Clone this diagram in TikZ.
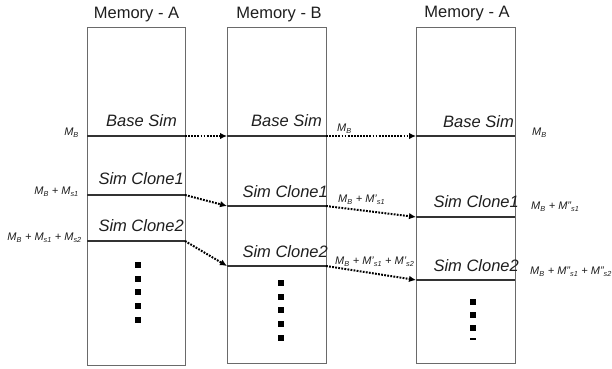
\documentclass[tikz,border=0pt]{standalone}
\usepackage{fontspec}
\setmainfont{Liberation Sans}
\usetikzlibrary{arrows.meta}
\definecolor{boxgray}{HTML}{6A6A6A}
\definecolor{divcol}{HTML}{333333}
\definecolor{txtcol}{HTML}{1E1E1E}
\tikzset{
  membox/.style={draw=boxgray, line width=0.9pt, minimum width=#1, anchor=north west, inner sep=0pt},
  divider/.style={draw=divcol, line width=1.2pt},
  title/.style={font=\fontsize{16.5}{18}\selectfont, text=txtcol, inner sep=0pt},
  simlabel/.style={font=\fontsize{16.5}{18}\selectfont\itshape, text=txtcol, inner sep=0pt, anchor=east},
  memlabel/.style={font=\fontsize{11}{12}\selectfont\itshape, text=txtcol, inner sep=0pt},
  copyarrow/.style={draw=black, line width=2pt, dash pattern=on 1.8pt off 1.3pt, -{Latex[length=7pt,width=6.5pt]}},
  dotsq/.style={fill=black, draw=none, minimum size=6pt, inner sep=0pt}
}
\newcommand{\sbx}[1]{\textsubscript{\fontsize{7.3}{8}\selectfont #1}}
\begin{document}
\begin{tikzpicture}[x=1pt,y=-1pt]
\useasboundingbox (0,0) rectangle (612,368);
% boxes
\node[membox=98pt, minimum height=338pt] (memA) at (87,27) {};
\node[membox=99pt, minimum height=336pt] (memB) at (227,27) {};
\node[membox=99pt, minimum height=336pt] (memC) at (416,27) {};
% titles
\node[title] (tA) at (136.5,15) {Memory - A};
\node[title] (tB) at (279,15) {Memory - B};
\node[title] (tC) at (467,14) {Memory - A};
% divider coordinates
\coordinate (a1L) at (87,136);  \coordinate (a1R) at (185,136);
\coordinate (a2L) at (87,195);  \coordinate (a2R) at (185,195);
\coordinate (a3L) at (87,241);  \coordinate (a3R) at (185,241);
\coordinate (b1L) at (227,136); \coordinate (b1R) at (326,136);
\coordinate (b2L) at (227,206); \coordinate (b2R) at (326,206);
\coordinate (b3L) at (227,266); \coordinate (b3R) at (326,266);
\coordinate (c1L) at (416,136); \coordinate (c1R) at (515,136);
\coordinate (c2L) at (416,217); \coordinate (c2R) at (515,217);
\coordinate (c3L) at (416,280); \coordinate (c3R) at (515,280);
\foreach \p in {a1,a2,a3,b1,b2,b3,c1,c2,c3}{
  \draw[divider] (\p L) -- (\p R);
}
% sim labels
\node[simlabel] (sa1) at (177,121) {Base Sim};
\node[simlabel] (sa2) at (184,179) {Sim Clone1};
\node[simlabel] (sa3) at (184,226) {Sim Clone2};
\node[simlabel] (sb1) at (322,121) {Base Sim};
\node[simlabel] (sb2) at (328,192) {Sim Clone1};
\node[simlabel] (sb3) at (328,252) {Sim Clone2};
\node[simlabel] (sc1) at (514,122) {Base Sim};
\node[simlabel] (sc2) at (519,202) {Sim Clone1};
\node[simlabel] (sc3) at (519,266) {Sim Clone2};
% arrows
\draw[copyarrow] (a1R) -- (b1L);
\draw[copyarrow] (a2R) -- (b2L);
\draw[copyarrow] (a3R) -- (b3L);
\draw[copyarrow] (b1R) -- (c1L);
\draw[copyarrow] (b2R) -- (c2L);
\draw[copyarrow] (b3R) -- (c3L);
% memory labels
\node[memlabel, anchor=east] (la1) at (79,133) {M\sbx{B}};
\node[memlabel, anchor=east] (la2) at (79,192) {M\sbx{B} + M\sbx{s1}};
\node[memlabel, anchor=east] (la3) at (82,238) {M\sbx{B} + M\sbx{s1} + M\sbx{s2}};
\node[memlabel, anchor=west] (lb1) at (337,129) {M\sbx{B}};
\node[memlabel, anchor=west] (lb2) at (338,200) {M\sbx{B} + M'\sbx{s1}};
\node[memlabel, anchor=west] (lb3) at (335,262) {M\sbx{B} + M'\sbx{s1} + M'\sbx{s2}};
\node[memlabel, anchor=west] (lc1) at (532,133) {M\sbx{B}};
\node[memlabel, anchor=west] (lc2) at (531,207) {M\sbx{B} + M"\sbx{s1}};
\node[memlabel, anchor=west] (lc3) at (530,272) {M\sbx{B} + M"\sbx{s1} + M"\sbx{s2}};
% continuation dots
\foreach \y [count=\i] in {265,279,292,306,320}{
  \node[dotsq] (da\i) at (138,\y) {};
}
\foreach \y [count=\i] in {283,297,310,324,338}{
  \node[dotsq] (db\i) at (281,\y) {};
}
\foreach \y [count=\i] in {302,315,328}{
  \node[dotsq] (dc\i) at (473,\y) {};
}
\node[fill=black, draw=none, minimum width=6pt, minimum height=2pt, inner sep=0pt] (dc4) at (473,339) {};
\end{tikzpicture}
\end{document}
